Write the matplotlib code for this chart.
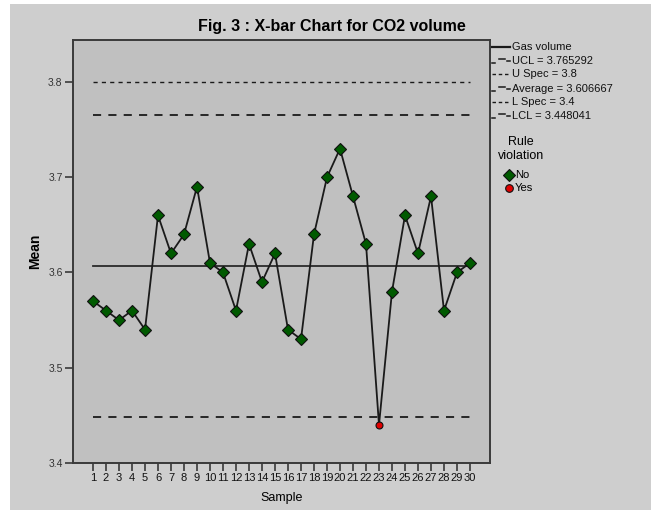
import matplotlib
matplotlib.use("Agg")
import matplotlib.pyplot as plt
from matplotlib.lines import Line2D
from matplotlib.patches import Rectangle

# data
samples = list(range(1, 31))
means = [3.57, 3.56, 3.55, 3.56, 3.54, 3.66, 3.62, 3.64, 3.69, 3.61,
         3.60, 3.56, 3.63, 3.59, 3.62, 3.54, 3.53, 3.64, 3.70, 3.73,
         3.68, 3.63, 3.44, 3.58, 3.66, 3.62, 3.68, 3.56, 3.60, 3.61]
ucl = 3.765292
lcl = 3.448041
average = 3.606667
u_spec = 3.8
l_spec = 3.4
y_ticks = [3.4, 3.5, 3.6, 3.7, 3.8]

plt.rcParams["font.family"] = ["Liberation Sans", "DejaVu Sans"]

W, H = 656, 514
fig = plt.figure(figsize=(W / 100, H / 100), dpi=100, facecolor="white")

def fx(px):
    return px / W

def fy(py):
    return 1 - py / H

# outer grey panel
fig.patches.append(Rectangle((fx(10), fy(510)), fx(641), 506 / H,
                             transform=fig.transFigure, facecolor="#cecece",
                             edgecolor="none", zorder=-10))

ax = fig.add_axes([fx(73), fy(463), fx(490 - 73), (463 - 40) / H])
ax.set_zorder(1)
ax.set_facecolor("#c0c0c0")
for s in ax.spines.values():
    s.set_color("#3a3a3a")
    s.set_linewidth(1.4)

ax.set_xlim(1 - 20 / 13, 30 + 20 / 13)
ax.set_ylim(3.4, 3.8 + 42 / 952.5)

x0, x1 = samples[0], samples[-1]
ax.plot([x0, x1], [u_spec, u_spec], color="#1a1a1a", lw=1.0, dashes=(3, 3))
ax.plot([x0, x1], [ucl, ucl], color="#1a1a1a", lw=1.3, dashes=(4.5, 4))
ax.plot([x0, x1], [average, average], color="#2a2a2a", lw=1.3)
ax.plot([x0, x1], [lcl, lcl], color="#1a1a1a", lw=1.3, dashes=(4.5, 4))
ax.plot([x0, x1], [l_spec, l_spec], color="#1a1a1a", lw=1.0, dashes=(3, 3))

ax.plot(samples, means, color="#1a1a1a", lw=1.3, zorder=3)
ok_x = [s for s, m in zip(samples, means) if lcl <= m <= ucl]
ok_y = [m for m in means if lcl <= m <= ucl]
bad_x = [s for s, m in zip(samples, means) if not (lcl <= m <= ucl)]
bad_y = [m for m in means if not (lcl <= m <= ucl)]
ax.plot(ok_x, ok_y, "D", color="#005a00", mec="#101010", mew=0.8, ms=6, zorder=4)
ax.plot(bad_x, bad_y, "o", color="#e00000", mec="#101010", mew=0.8, ms=5, zorder=4)

ax.set_yticks(y_ticks)
ax.set_yticklabels([f"{v:.1f}" for v in y_ticks], fontsize=7.5, color="#333333")
ax.set_xticks(samples)
ax.set_xticklabels([str(s) for s in samples], fontsize=8, color="#111111")
ax.tick_params(axis="both", direction="out", length=6, width=1.2, color="#3a3a3a", pad=1.5)

ax.set_xlabel("Sample", fontsize=9, labelpad=6)
ax.set_ylabel("Mean", fontsize=10, fontweight="bold", labelpad=4)

fig.text(fx(332), fy(27), "Fig. 3 : X-bar Chart for CO2 volume", fontsize=11.5,
         fontweight="bold", ha="center", va="center")

# legend drawn in pixel positions to the right of the plot
def seg(xa, xb, y, **kw):
    fig.lines.append(Line2D([fx(xa), fx(xb)], [fy(y), fy(y)],
                            transform=fig.transFigure, color="#1a1a1a", **kw))

def stair(y):
    seg(492, 495, y + 2, lw=1.1)
    seg(499, 505, y - 2, lw=1.1)
    seg(507, 510, y, lw=1.1)

legend_labels = ["Gas volume", f"UCL = {ucl:.6f}", f"U Spec = {u_spec:g}",
                 f"Average = {average:.6f}", f"L Spec = {l_spec:g}", f"LCL = {lcl:.6f}"]
legend_y = [47, 61, 74, 89, 102, 116]
for lab, y in zip(legend_labels, legend_y):
    if lab.startswith("Gas"):
        seg(492, 510, y, lw=1.6)
    elif "Spec" in lab:
        seg(492, 510, y, lw=1.0, dashes=(2.5, 2))
    else:
        stair(y)
    fig.text(fx(512), fy(y), lab, fontsize=8, ha="left", va="center", color="#111111")

fig.text(fx(521), fy(142), "Rule", fontsize=9, ha="center", va="center")
fig.text(fx(521), fy(156), "violation", fontsize=9, ha="center", va="center")
fig.lines.append(Line2D([fx(509)], [fy(175)], transform=fig.transFigure, marker="D",
                        color="#005a00", mec="#101010", mew=0.8, ms=6.5, ls="none"))
fig.lines.append(Line2D([fx(509)], [fy(188)], transform=fig.transFigure, marker="o",
                        color="#e00000", mec="#101010", mew=0.8, ms=5.5, ls="none"))
fig.text(fx(515), fy(175), "No", fontsize=8, ha="left", va="center")
fig.text(fx(515), fy(188), "Yes", fontsize=8, ha="left", va="center")

fig.savefig("out.png", dpi=100, facecolor="white")
